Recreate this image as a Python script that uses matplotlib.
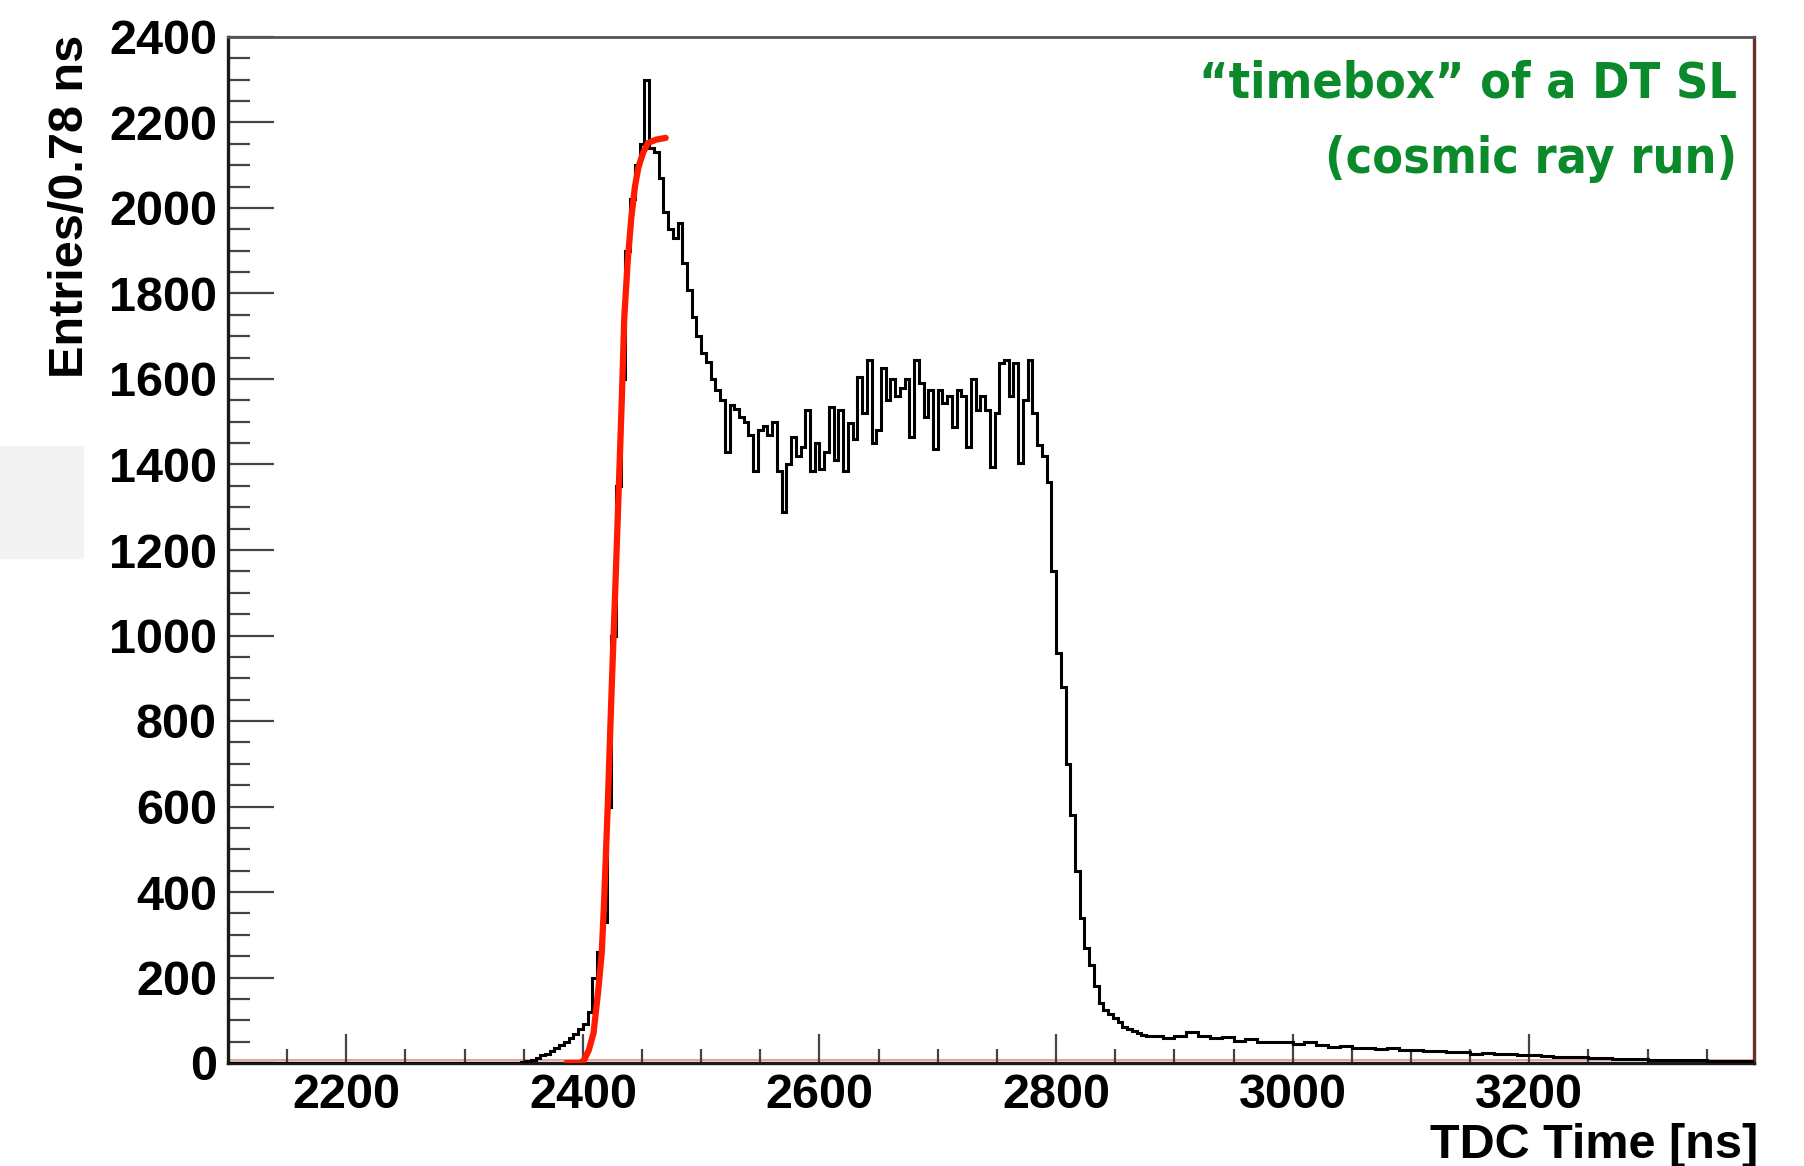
import matplotlib
matplotlib.use("Agg")
import matplotlib.pyplot as plt
import numpy as np

# TDC time histogram of one DT superlayer (entries per bin)
t_start = 2100
fine_start, fine_width = 2340, 4
tail_start, tail_width = 2880, 10
t_stop = 3390

counts_low = [0]  # 2100-2340, empty
counts_fine = [
    0, 0, 2, 5, 8, 12, 18, 22, 28, 35,                      # 2340-2376
    42, 50, 58, 68, 80, 92, 120, 200, 260, 330,             # 2380-2416
    600, 1000, 1350, 1600, 1900, 2020, 2100, 2150, 2300, 2140,   # 2420-2456
    2130, 2070, 1990, 1950, 1930, 1965, 1871, 1808, 1745, 1700,  # 2460-2496
    1660, 1640, 1600, 1575, 1550, 1430, 1540, 1530, 1510, 1500,  # 2500-2536
    1470, 1385, 1480, 1490, 1470, 1500, 1385, 1290, 1400, 1465,  # 2540-2576
    1420, 1440, 1527, 1385, 1450, 1390, 1430, 1535, 1410, 1527,  # 2580-2616
    1385, 1496, 1460, 1605, 1520, 1645, 1450, 1480, 1625, 1550,  # 2620-2656
    1600, 1560, 1580, 1600, 1465, 1645, 1590, 1510, 1575, 1436,  # 2660-2696
    1575, 1545, 1560, 1488, 1575, 1560, 1442, 1600, 1527, 1560,  # 2700-2736
    1527, 1395, 1520, 1637, 1645, 1560, 1637, 1403, 1550, 1645,  # 2740-2776
    1520, 1446, 1420, 1360, 1150, 960, 880, 700, 580, 450,       # 2780-2816
    340, 270, 230, 180, 140, 125, 115, 105, 95, 85,              # 2820-2856
    80, 75, 70, 66, 62,                                          # 2860-2876
]
counts_tail = [
    62, 58, 64, 72, 62, 58, 60, 52, 55, 50,     # 2880-2970
    48, 50, 44, 48, 42, 38, 40, 35, 36, 33,     # 2980-3070
    34, 30, 31, 28, 27, 25, 26, 22, 24, 20,     # 3080-3170
    22, 19, 18, 16, 15, 14, 13, 12, 11, 10,     # 3180-3270
    9, 9, 8, 7, 7, 6, 6, 5, 5, 4,               # 3280-3370
    4,                                          # 3380
]

# rising-edge fit (red curve)
fit_t = [2386, 2398, 2401, 2405, 2409, 2413, 2416, 2418, 2421, 2424, 2427,
         2430, 2433, 2435, 2438, 2441, 2444, 2447, 2451, 2455, 2462, 2470]
fit_y = [0, 0, 7, 30, 70, 170, 260, 381, 600, 850, 1080,
         1317, 1560, 1745, 1880, 1979, 2050, 2096, 2130, 2152, 2160, 2164]

x_ticks = [2200, 2400, 2600, 2800, 3000, 3200]
y_ticks = list(range(0, 2401, 200))

edges = np.concatenate([
    [t_start],
    np.arange(fine_start, tail_start + 1, fine_width),
    np.arange(tail_start + tail_width, t_stop + 1, tail_width),
])
counts = np.array(counts_low + counts_fine + counts_tail, dtype=float)

W, H = 1804, 1166
fig = plt.figure(figsize=(W / 100, H / 100), dpi=100)
fig.patches.append(plt.Rectangle((0, 1 - 558 / H), 83 / W, 112 / H,
                                 transform=fig.transFigure,
                                 color="#f3f3f3", zorder=0))

ax = fig.add_axes([228 / W, 103 / H, (1754 - 228) / W, (1063 - 37) / H])

ax.axhline(6, color="#d24a3a", lw=1.2, alpha=0.6, zorder=1)
ax.stairs(counts, edges, color="black", lw=2.2, zorder=3)
ax.plot(fit_t, fit_y, color="#ff1a00", lw=4.5, solid_capstyle="round", zorder=4)

ax.set_xlim(t_start, t_stop)
ax.set_ylim(0, 2400)
ax.set_xticks(x_ticks)
ax.set_xticks(np.arange(2150, t_stop, 50), minor=True)
ax.set_yticks(y_ticks)
ax.set_yticks(np.arange(0, 2401, 50), minor=True)

lab_font = dict(family=["Liberation Sans", "DejaVu Sans"], weight="bold", size=35)
ax.set_xticklabels([str(v) for v in x_ticks], **lab_font)
ax.set_yticklabels([str(v) for v in y_ticks], **lab_font)

ax.tick_params(axis="both", which="both", direction="in", color="#444444", width=1.6)
ax.tick_params(axis="y", which="major", length=33, pad=8)
ax.tick_params(axis="y", which="minor", length=16)
ax.tick_params(axis="x", which="major", length=21, pad=7)
ax.tick_params(axis="x", which="minor", length=10)

for side in ["left", "bottom"]:
    ax.spines[side].set_linewidth(2.4)
    ax.spines[side].set_color("#1a1a1a")
ax.spines["top"].set_linewidth(2.0)
ax.spines["top"].set_color("#555555")
ax.spines["right"].set_linewidth(2.4)
ax.spines["right"].set_color("#6e2f2a")

fig.text(71 / W, 1 - 35 / H, "Entries/0.78 ns", rotation=90,
         ha="center", va="top", **lab_font)
fig.text(1758 / W, 1 - 1145 / H, "TDC Time [ns]", ha="right", va="center", **lab_font)

green_font = dict(family="DejaVu Sans", stretch="condensed",
                  weight="bold", size=36, color="#0b8a2c")
fig.text(1737 / W, 1 - 83 / H, "\u201ctimebox\u201d of a DT SL", ha="right", va="center", **green_font)
fig.text(1737 / W, 1 - 159 / H, "(cosmic ray run)", ha="right", va="center", **green_font)

fig.savefig("out.png", dpi=100)
